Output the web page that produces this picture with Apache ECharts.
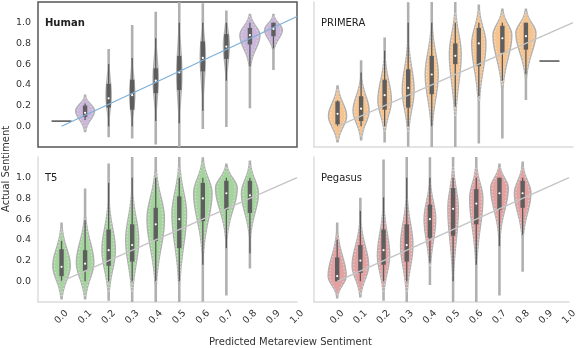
<!DOCTYPE html>
<html>
<head>
<meta charset="utf-8">
<script src="https://cdn.jsdelivr.net/npm/echarts@6/dist/echarts.min.js"></script>
<style>
  html, body { margin: 0; padding: 0; background: #fff; }
  #chart { width: 580px; height: 348px; }
</style>
</head>
<body>
<div id="chart"></div>
<script>
  // predicted bins (x) per panel
  var humanX = [0.1, 0.2, 0.3, 0.4, 0.5, 0.6, 0.7, 0.8, 0.9];
  var modelX = [0.0, 0.1, 0.2, 0.3, 0.4, 0.5, 0.6, 0.7, 0.8];

  // violin: [lo, bodyLo, peak, bodyHi, hi, width]  (width = share of a bin)
  // box: [whiskerLo, q1, median, q3, whiskerHi]
  var humanViolin = [
    [-0.05, -0.03, 0.15, 0.28, 0.30, 0.80],
    [-0.10, 0.02, 0.30, 0.62, 0.74, 0.22],
    [-0.11, 0.02, 0.30, 0.65, 0.97, 0.22],
    [-0.17, 0.08, 0.45, 0.85, 1.10, 0.22],
    [-0.20, 0.05, 0.50, 1.00, 1.22, 0.22],
    [-0.02, 0.20, 0.68, 1.02, 1.18, 0.22],
    [0.00, 0.45, 0.78, 1.05, 1.11, 0.25],
    [0.18, 0.60, 0.88, 1.06, 1.08, 0.85],
    [0.55, 0.75, 0.93, 1.06, 1.08, 0.75]
  ];
  var humanBox = [
    [0.06, 0.09, 0.13, 0.20, 0.22],
    [0.00, 0.18, 0.27, 0.41, 0.60],
    [0.00, 0.16, 0.30, 0.45, 0.66],
    [0.05, 0.32, 0.44, 0.56, 0.85],
    [0.03, 0.35, 0.52, 0.68, 1.00],
    [0.15, 0.53, 0.66, 0.82, 1.00],
    [0.44, 0.65, 0.77, 0.89, 1.00],
    [0.58, 0.79, 0.88, 0.95, 1.00],
    [0.75, 0.87, 0.94, 1.00, 1.00]
  ];
  var humanSingle = [[0.0, 0.05]];

  var primeraViolin = [
    [-0.15, -0.13, 0.10, 0.36, 0.39, 0.77],
    [-0.13, -0.10, 0.15, 0.45, 0.63, 0.68],
    [-0.15, -0.05, 0.25, 0.65, 0.85, 0.57],
    [-0.19, -0.05, 0.35, 0.80, 1.19, 0.50],
    [-0.20, 0.00, 0.50, 0.95, 1.21, 0.55],
    [-0.20, 0.10, 0.70, 1.10, 1.21, 0.50],
    [-0.16, 0.25, 0.80, 1.12, 1.17, 0.60],
    [-0.11, 0.40, 0.88, 1.10, 1.13, 0.80],
    [0.26, 0.50, 0.90, 1.10, 1.13, 0.85]
  ];
  var primeraBox = [
    [0.00, 0.02, 0.12, 0.24, 0.25],
    [0.00, 0.05, 0.17, 0.29, 0.52],
    [0.00, 0.16, 0.30, 0.45, 0.73],
    [0.00, 0.18, 0.37, 0.55, 1.00],
    [0.00, 0.31, 0.50, 0.68, 1.00],
    [0.19, 0.60, 0.68, 0.80, 1.00],
    [0.29, 0.58, 0.80, 0.95, 1.00],
    [0.44, 0.71, 0.85, 0.97, 1.00],
    [0.50, 0.74, 0.87, 1.00, 1.00]
  ];
  var primeraSingle = [[0.9, 0.63]];

  var t5Violin = [
    [-0.17, -0.14, 0.15, 0.50, 0.56, 0.74],
    [-0.17, -0.14, 0.18, 0.60, 0.89, 0.74],
    [-0.18, -0.10, 0.30, 0.75, 1.13, 0.57],
    [-0.20, -0.10, 0.40, 0.85, 1.21, 0.55],
    [-0.20, 0.00, 0.60, 1.05, 1.21, 0.74],
    [-0.20, 0.00, 0.65, 1.10, 1.21, 0.62],
    [-0.19, 0.30, 0.85, 1.15, 1.19, 0.78],
    [-0.13, 0.45, 0.90, 1.10, 1.13, 0.92],
    [0.13, 0.45, 0.85, 1.12, 1.16, 0.72]
  ];
  var t5Box = [
    [0.00, 0.05, 0.14, 0.31, 0.39],
    [0.00, 0.10, 0.17, 0.30, 0.59],
    [0.00, 0.15, 0.30, 0.50, 0.95],
    [0.00, 0.19, 0.35, 0.55, 1.00],
    [0.00, 0.39, 0.55, 0.71, 1.00],
    [0.00, 0.32, 0.60, 0.82, 1.00],
    [0.16, 0.58, 0.80, 0.95, 1.00],
    [0.32, 0.69, 0.85, 0.97, 1.00],
    [0.27, 0.66, 0.83, 0.97, 1.00]
  ];

  var pegasusViolin = [
    [-0.16, -0.13, 0.05, 0.45, 0.56, 0.78],
    [-0.15, -0.12, 0.15, 0.55, 0.80, 0.71],
    [-0.18, -0.10, 0.25, 0.70, 1.17, 0.53],
    [-0.20, -0.10, 0.35, 0.80, 1.21, 0.53],
    [-0.03, 0.15, 0.60, 0.95, 1.19, 0.50],
    [-0.20, 0.05, 0.70, 1.10, 1.21, 0.45],
    [-0.20, 0.20, 0.80, 1.10, 1.21, 0.57],
    [-0.13, 0.45, 0.90, 1.10, 1.13, 0.76],
    [0.10, 0.45, 0.85, 1.10, 1.15, 0.71]
  ];
  var pegasusBox = [
    [0.00, 0.00, 0.05, 0.23, 0.40],
    [0.00, 0.08, 0.20, 0.35, 0.68],
    [0.00, 0.16, 0.30, 0.50, 0.81],
    [0.00, 0.19, 0.35, 0.55, 1.00],
    [0.18, 0.42, 0.60, 0.74, 1.00],
    [0.00, 0.44, 0.70, 0.90, 1.00],
    [0.16, 0.55, 0.75, 0.89, 1.00],
    [0.34, 0.69, 0.85, 1.00, 1.00],
    [0.45, 0.71, 0.85, 0.97, 1.00]
  ];

  // identity / fitted lines
  var humanFit = [[0.0, 0.0], [1.0, 1.06]];
  var modelFit = [[0.0, 0.0], [1.0, 1.0]];

  var panels = [
    { name: 'Human', xs: humanX, violin: humanViolin, box: humanBox, single: humanSingle, fit: humanFit, color: '#cbb6dc', line: '#7fb0d8', bold: true },
    { name: 'PRIMERA', xs: modelX, violin: primeraViolin, box: primeraBox, single: primeraSingle, fit: modelFit, color: '#f6c491', line: '#c4c4c4' },
    { name: 'T5', xs: modelX, violin: t5Violin, box: t5Box, single: [], fit: modelFit, color: '#a5d49e', line: '#c4c4c4' },
    { name: 'Pegasus', xs: modelX, violin: pegasusViolin, box: pegasusBox, single: [], fit: modelFit, color: '#e4a1a1', line: '#c4c4c4' }
  ];

  var grids = [
    { left: 38, top: 2, width: 259, height: 145 },
    { left: 314, top: 2, width: 259, height: 145 },
    { left: 38, top: 157, width: 259, height: 145 },
    { left: 314, top: 157, width: 259, height: 145 }
  ];

  var FONT = 'DejaVu Sans';
  var BIN = 0.1;

  function halfWidth(v, d, scale, minW) {
    var t = v < d[2] ? (d[2] - v) / (d[2] - d[1]) : (v - d[2]) / (d[3] - d[2]);
    var w = d[5] * Math.exp(-2.3 * t * t);
    return Math.max(w, minW) * scale * BIN / 2;
  }

  function outline(api, x, d, scale, minW, from, to) {
    var left = [], right = [];
    var n = 90;
    for (var i = 0; i <= n; i++) {
      var v = from + (to - from) * i / n;
      var hw = halfWidth(v, d, scale, minW);
      right.push(api.coord([x + hw, v]));
      left.unshift(api.coord([x - hw, v]));
    }
    return right.concat(left);
  }

  function violinRender(p) {
    return function (params, api) {
      var i = params.dataIndex;
      var x = p.xs[i];
      var d = p.violin[i];
      var b = p.box[i];
      var cx = api.coord([x, 0])[0];
      var children = [];
      children.push({
        type: 'polygon',
        shape: { points: outline(api, x, d, 1, 0.05, d[0], d[4]) },
        style: { fill: d[5] > 0.35 ? p.color : '#c9c9c9', stroke: '#b0b0b0', lineWidth: 1.4 }
      });
      if (d[5] > 0.35) {
        children.push({
          type: 'polygon',
          shape: { points: outline(api, x, d, 0.8, 0, d[1], d[3]) },
          style: { fill: null, stroke: 'rgba(255,255,255,0.75)', lineWidth: 0.8, lineDash: [1.2, 2.2] }
        });
      }
      var w0 = api.coord([x, b[0]])[1], w1 = api.coord([x, b[4]])[1];
      var q1 = api.coord([x, b[1]])[1], q3 = api.coord([x, b[3]])[1];
      var md = api.coord([x, b[2]])[1];
      children.push({
        type: 'line',
        shape: { x1: cx, y1: w0, x2: cx, y2: w1 },
        style: { stroke: '#5a5a5a', lineWidth: 1.3 }
      });
      children.push({
        type: 'rect',
        shape: { x: cx - 2.2, y: q3, width: 4.4, height: Math.max(q1 - q3, 1) },
        style: { fill: '#5e5e5e' }
      });
      children.push({
        type: 'circle',
        shape: { cx: cx, cy: md, r: 1.1 },
        style: { fill: '#fff' }
      });
      return { type: 'group', children: children };
    };
  }

  function singleRender(p) {
    return function (params, api) {
      var s = p.single[params.dataIndex];
      var pt = api.coord([s[0], s[1]]);
      return {
        type: 'line',
        shape: { x1: pt[0] - 10, y1: pt[1], x2: pt[0] + 10, y2: pt[1] },
        style: { stroke: '#444', lineWidth: 1.4 }
      };
    };
  }

  var xAxes = [], yAxes = [], series = [], graphics = [];
  panels.forEach(function (p, k) {
    var bottom = k >= 2, leftCol = k % 2 === 0;
    var spine = k === 0 ? { show: false } : { show: true, onZero: false, lineStyle: { color: '#dcdcdc', width: 1.5 } };
    xAxes.push({
      type: 'value', gridIndex: k, min: -0.1, max: 1.0, interval: 0.1,
      axisLine: spine, axisTick: { show: false }, splitLine: { show: false },
      axisLabel: {
        show: bottom, rotate: 45, align: 'center', verticalAlign: 'middle', margin: 15,
        fontFamily: FONT, fontSize: 9.5, color: '#333',
        formatter: function (v) { return v < -0.05 ? '' : v.toFixed(1); }
      }
    });
    yAxes.push({
      type: 'value', gridIndex: k, min: -0.2, max: 1.2, interval: 0.2,
      axisLine: spine, axisTick: { show: false }, splitLine: { show: false },
      axisLabel: {
        show: leftCol, margin: 7, fontFamily: FONT, fontSize: 9.5, color: '#333',
        formatter: function (v) { return (v < -0.1 || v > 1.1) ? '' : v.toFixed(1); }
      }
    });
    series.push({
      type: 'custom', xAxisIndex: k, yAxisIndex: k, clip: true, z: 2,
      renderItem: violinRender(p),
      data: p.xs.map(function (x, i) { return [x, p.box[i][2]]; })
    });
    if (p.single.length) {
      series.push({
        type: 'custom', xAxisIndex: k, yAxisIndex: k, clip: true, z: 3,
        renderItem: singleRender(p),
        data: p.single
      });
    }
    series.push({
      type: 'line', xAxisIndex: k, yAxisIndex: k, z: 4,
      data: p.fit, showSymbol: false, symbol: 'none', silent: true,
      lineStyle: { color: p.line, width: 1.3 }
    });
    graphics.push({
      type: 'text', left: grids[k].left + 7, top: grids[k].top + 16,
      style: { text: p.name, font: (p.bold ? 'bold ' : '') + '10px "DejaVu Sans"', fill: '#222' }
    });
  });

  graphics.push({
    type: 'text', left: 209, top: 337,
    style: { text: 'Predicted Metareview Sentiment', font: '10px "DejaVu Sans"', fill: '#333' }
  });
  graphics.push({
    type: 'text', x: 1, y: 212, rotation: Math.PI / 2,
    style: { text: 'Actual Sentiment', font: '10px "DejaVu Sans"', fill: '#333' }
  });

  var chart = echarts.init(document.getElementById('chart'));
  chart.setOption({
    animation: false,
    backgroundColor: '#fff',
    grid: grids.map(function (g, k) {
      return {
        left: g.left, top: g.top, width: g.width, height: g.height,
        show: k === 0, borderColor: '#555', borderWidth: 1.5, backgroundColor: 'transparent'
      };
    }),
    xAxis: xAxes,
    yAxis: yAxes,
    series: series,
    graphic: graphics
  });
</script>
</body>
</html>
